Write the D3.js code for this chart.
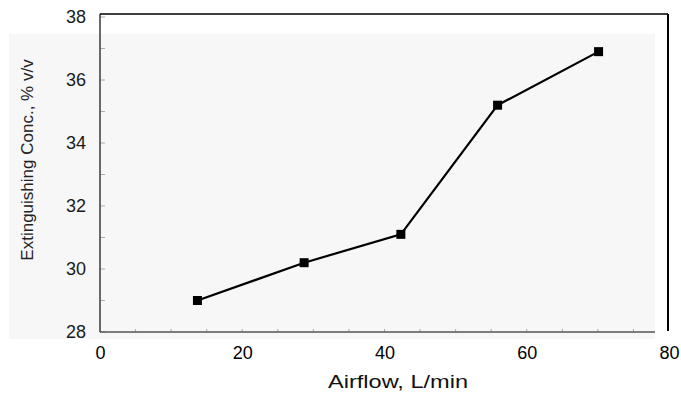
<!DOCTYPE html>
<html>
<head>
<meta charset="utf-8">
<script src="https://cdn.jsdelivr.net/npm/d3@7"></script>
<style>
  html, body { margin: 0; padding: 0; background: #fff; }
  svg { display: block; font-family: "Liberation Sans", Arial, sans-serif; }
</style>
</head>
<body>
<svg id="chart" width="681" height="393"></svg>
<script>
// ---- data ----
const airflow = [13.7, 28.7, 42.3, 55.9, 70.1];
const concentration = [29.0, 30.2, 31.1, 35.2, 36.9];
const xTickValues = [0, 20, 40, 60, 80];
const yTickValues = [28, 30, 32, 34, 36, 38];
const xTitle = "Airflow, L/min";
const yTitle = "Extinguishing Conc., % v/v";

const svg = d3.select("#chart");
const mLeft = 100, mRight = 669, mTop = 17, mBottom = 332;

const x = d3.scaleLinear().domain([0, 80]).range([mLeft, mRight]);
const y = d3.scaleLinear().domain([28, 38]).range([mBottom, mTop]);

// scanned light-gray background
svg.append("rect").attr("x", 9).attr("y", 34).attr("width", 646).attr("height", 305)
  .attr("fill", "#f7f7f7");

// minor ticks
const yMinor = d3.range(28, 38.01, 1);
svg.append("g").selectAll("line").data(yMinor).join("line")
  .attr("x1", mLeft).attr("x2", mLeft + 5)
  .attr("y1", d => y(d)).attr("y2", d => y(d))
  .attr("stroke", "#aaa").attr("stroke-width", 1);
const xMinor = d3.range(5, 80, 5);
svg.append("g").selectAll("line").data(xMinor).join("line")
  .attr("x1", d => x(d)).attr("x2", d => x(d))
  .attr("y1", mBottom).attr("y2", mBottom - 3)
  .attr("stroke", "#aaa").attr("stroke-width", 1);

// frame lines
svg.append("line").attr("x1", mLeft).attr("x2", mLeft).attr("y1", 14).attr("y2", mBottom)
  .attr("stroke", "#444").attr("stroke-width", 1.6);
svg.append("line").attr("x1", mLeft).attr("x2", 655).attr("y1", mBottom).attr("y2", mBottom)
  .attr("stroke", "#555").attr("stroke-width", 1.6);
svg.append("line").attr("x1", mLeft).attr("x2", 668).attr("y1", 14).attr("y2", 14)
  .attr("stroke", "#000").attr("stroke-width", 1.5);
svg.append("line").attr("x1", 668).attr("x2", 668).attr("y1", 14).attr("y2", 331)
  .attr("stroke", "#000").attr("stroke-width", 2);

// axes (labels only)
const yAxis = d3.axisLeft(y).tickValues(yTickValues).tickSize(0).tickPadding(14);
const gy = svg.append("g").attr("transform", `translate(${mLeft},0)`).call(yAxis);
gy.select(".domain").remove();
gy.selectAll("text").attr("font-size", 18).attr("fill", "#1a1a1a")
  .attr("font-family", "'Liberation Sans', Arial, sans-serif");

const xAxis = d3.axisBottom(x).tickValues(xTickValues).tickSize(0).tickPadding(14);
const gx = svg.append("g").attr("transform", `translate(0,${mBottom})`).call(xAxis);
gx.select(".domain").remove();
gx.selectAll("text").attr("font-size", 18).attr("fill", "#000")
  .attr("font-family", "'Liberation Sans', Arial, sans-serif");

// titles
svg.append("text").attr("x", 398).attr("y", 388).attr("text-anchor", "middle")
  .attr("font-size", 18).attr("fill", "#111")
  .attr("textLength", 140).attr("lengthAdjust", "spacingAndGlyphs")
  .text(xTitle);
svg.append("text").attr("transform", "translate(33,160) rotate(-90)")
  .attr("text-anchor", "middle").attr("font-size", 17).attr("fill", "#222")
  .text(yTitle);

// line + markers
const pts = airflow.map((a, i) => [a, concentration[i]]);
svg.append("path").datum(pts)
  .attr("d", d3.line().x(d => x(d[0])).y(d => y(d[1])))
  .attr("fill", "none").attr("stroke", "#000").attr("stroke-width", 2.2);
svg.append("g").selectAll("rect").data(pts).join("rect")
  .attr("x", d => x(d[0]) - 4.5).attr("y", d => y(d[1]) - 4.5)
  .attr("width", 9).attr("height", 9).attr("fill", "#000");
</script>
</body>
</html>
